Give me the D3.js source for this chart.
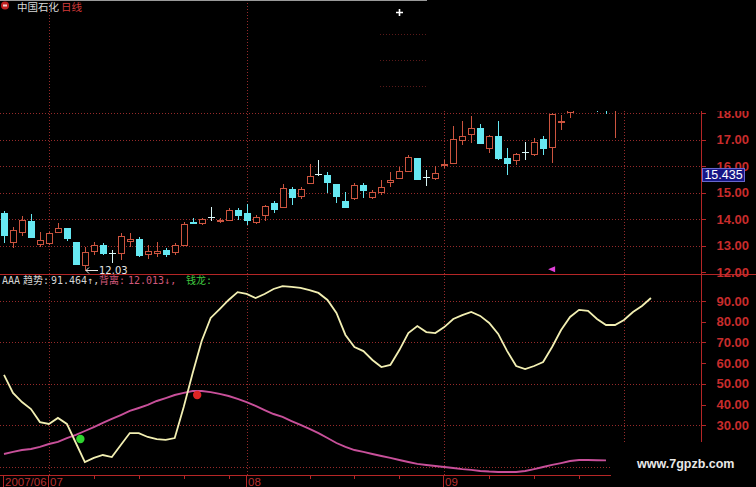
<!DOCTYPE html>
<html><head><meta charset="utf-8">
<script src="https://cdn.jsdelivr.net/npm/d3@7/dist/d3.min.js"></script>
<style>html,body{margin:0;padding:0;background:#000;overflow:hidden}</style>
</head><body>
<svg id="c" width="756" height="487"></svg>
<script>
// ---------- data ----------
const opens  = [14.23,13.13,13.51,13.92,13.06,13.09,13.51,13.66,13.13,12.26,12.79,13.02,12.72,12.72,13.17,13.25,12.68,12.72,12.83,12.75,
                13.02,13.89,13.85,14.08,13.92,13.96,14.34,14.23,13.89,14.15,14.60,14.45,15.13,14.87,15.36,15.70,15.66,15.32,14.68,14.79,
                15.28,14.83,15.02,15.40,15.55,15.81,16.30,15.58,15.55,16.04,16.11,16.98,17.21,17.43,16.68,17.13,16.30,16.23,16.53,16.45,
                17.02,16.72,17.66,18.05,18.40,18.60,18.50,18.50,18.20];
const highs  = [14.30,13.70,14.11,14.19,13.51,13.51,13.85,13.66,13.13,12.94,13.13,13.09,12.83,13.47,13.47,13.32,13.02,13.13,12.91,13.09,
                13.89,14.04,14.04,14.45,14.04,14.42,14.42,14.57,14.15,14.53,14.68,15.32,15.21,15.21,16.08,16.23,15.77,15.32,15.02,15.36,
                15.36,15.09,15.47,15.77,15.96,16.42,16.30,15.85,16.00,16.23,17.51,17.70,17.89,17.58,17.17,17.70,16.68,16.49,16.91,17.06,
                17.13,18.00,17.92,18.60,18.80,18.90,18.70,18.70,18.70];
const lows   = [13.09,12.91,13.36,13.28,12.94,13.02,13.47,13.17,12.28,12.03,12.64,12.64,12.34,12.45,12.94,12.57,12.49,12.57,12.57,12.64,
                12.98,13.85,13.77,13.92,13.85,13.92,13.96,13.77,13.81,13.92,14.23,14.45,14.53,14.75,15.32,15.62,14.98,14.60,14.42,14.72,
                14.79,14.75,14.91,15.21,15.55,15.77,15.47,15.25,15.47,15.92,16.11,16.79,16.87,16.83,16.49,16.23,15.66,16.04,16.23,16.38,
                16.42,16.11,17.36,17.83,18.20,18.10,18.05,17.96,17.06];
const closes = [13.40,13.58,13.96,13.32,13.21,13.47,13.66,13.28,12.30,12.75,13.02,12.72,12.72,13.36,13.25,12.64,12.79,12.79,12.68,13.02,
                13.81,13.85,14.00,14.08,13.96,14.34,14.15,13.96,14.08,14.49,14.38,15.17,14.83,15.13,15.62,15.70,15.40,14.87,14.45,15.28,
                15.09,15.02,15.21,15.47,15.81,16.34,15.51,15.58,15.74,16.08,17.02,17.13,17.43,16.87,17.13,16.30,16.11,16.45,16.53,16.91,
                16.68,17.96,17.70,18.35,18.60,18.40,18.30,18.30,18.50];
// indicator "趋势"
const trend = [54.3,45.6,41.2,37.8,31.5,30.6,33.5,30.6,21.4,12.2,14.2,15.6,14.6,20.4,26.2,26.2,24.3,23.3,22.9,23.8,
               38.8,55.2,70.7,81.8,86.1,90.5,94.3,93.4,91.4,93.4,95.8,97.2,96.8,96.3,95.3,93.9,90.5,84.2,73.6,67.8,
               65.8,61.5,58.1,59.1,66.3,74.5,77.9,75.0,74.5,77.4,81.3,83.2,84.7,82.8,79.4,74.1,65.8,58.6,57.1,58.6,
               60.5,67.8,76.0,82.3,85.7,85.2,81.3,78.4,78.4,80.8,84.7,87.6,91.46];
// indicator "背离"
const diverge = [16.1,17.1,18.0,18.5,19.5,20.9,21.9,23.8,25.3,27.2,29.1,31.1,33.0,34.9,36.9,38.3,39.8,41.7,43.1,44.6,
                 45.6,46.5,46.5,46.0,45.1,44.1,42.7,41.2,39.3,37.3,35.4,34.0,32.0,30.1,28.2,26.2,23.8,21.4,19.5,18.0,
                 17.1,16.1,15.1,14.2,13.2,12.2,11.3,10.8,10.3,9.8,9.3,8.8,8.4,7.9,7.6,7.4,7.4,7.4,7.9,8.8,
                 9.8,10.8,11.7,12.7,13.2,13.2,13.1,13.0];
const dotIdx = [8.5, 21.5];
const dotVal = [23.3, 44.6];
const dotColors = ["#2fd42f", "#e02424"];

const priceTicks = [12,13,14,15,16,17,18];
const upperGrid = [19,20,21];
const indTicks = [30,40,50,60,70,80,90];
const indGrid = [10,30,50,70,90];
const monthLabels = ["2007/06","07","08","09"];
const monthIdx = [0,5,27,49];
const gridIdx = [5,27,49,69];
const weekIdx = [10,15,20,25,34,39,44,54,59,64];
const lastPrice = 15.435;
const titleName = "中国石化", titlePeriod = "日线";
const headerTexts = ["AAA", "趋势:", "91.464↑,", "背离:", "12.013↓,", "钱龙:"];
const headerColors = ["#d4d4d4", "#d4d4d4", "#d4d4d4", "#d0587a", "#d0587a", "#3fc43f"];
const headerX = [2, 23, 51, 99, 128, 186];

// ---------- drawing ----------
const svg = d3.select("#c");
svg.append("rect").attr("width",756).attr("height",487).attr("fill","#000");

const x = d3.scaleLinear().domain([0,68]).range([4,615]);
const yP = d3.scaleLinear().domain([12,18]).range([272,113]);
const yI = d3.scaleLinear().domain([30,90]).range([425.2,301]);

const GRID = "#962a2a", AXIS = "#b42626", LBL = "#c82c2c";
const RED = "#cc543f", CYAN = "#66e8f2", DOJI = "#d8f6f6";

const g = svg.append("g");
// horizontal dotted grids
g.selectAll(".hp").data(priceTicks.slice(1)).join("line")
  .attr("x1",0).attr("x2",701).attr("y1",d=>Math.round(yP(d))+0.5).attr("y2",d=>Math.round(yP(d))+0.5)
  .attr("stroke",GRID).attr("stroke-dasharray","1,2");
g.selectAll(".hu").data(upperGrid).join("line")
  .attr("x1",380).attr("x2",427).attr("y1",d=>Math.round(yP(d))+0.5).attr("y2",d=>Math.round(yP(d))+0.5)
  .attr("stroke",GRID).attr("stroke-opacity",0.6).attr("stroke-dasharray","1,2");
g.selectAll(".hi").data(indGrid).join("line")
  .attr("x1",0).attr("x2",701).attr("y1",d=>Math.round(yI(d))+0.5).attr("y2",d=>Math.round(yI(d))+0.5)
  .attr("stroke",GRID).attr("stroke-dasharray","1,2");
// vertical dotted grids
g.selectAll(".v").data(gridIdx).join("line")
  .attr("x1",d=>Math.round(x(d))+0.5).attr("x2",d=>Math.round(x(d))+0.5).attr("y1",0).attr("y2",475)
  .attr("stroke",GRID).attr("stroke-dasharray","1,2");

// candles
const candles = g.append("g");
opens.forEach((o,i)=>{
  const c = closes[i], h = highs[i], l = lows[i];
  const cx = Math.round(x(i));
  const top = Math.round(yP(Math.max(o,c))), bot = Math.round(yP(Math.min(o,c)));
  const yh = Math.round(yP(h)), yl = Math.round(yP(l));
  if (o === c) {
    candles.append("line").attr("x1",cx+0.5).attr("x2",cx+0.5).attr("y1",yh).attr("y2",yl).attr("stroke",DOJI);
    candles.append("line").attr("x1",cx-3).attr("x2",cx+4).attr("y1",top+0.5).attr("y2",top+0.5).attr("stroke",DOJI);
  } else if (c > o) {
    candles.append("line").attr("x1",cx+0.5).attr("x2",cx+0.5).attr("y1",yh).attr("y2",top).attr("stroke",RED);
    candles.append("line").attr("x1",cx+0.5).attr("x2",cx+0.5).attr("y1",bot).attr("y2",yl).attr("stroke",RED);
    if (bot - top < 2) {
      candles.append("line").attr("x1",cx-3).attr("x2",cx+4).attr("y1",top+0.5).attr("y2",top+0.5).attr("stroke",RED);
      candles.append("line").attr("x1",cx-3).attr("x2",cx+4).attr("y1",bot+0.5).attr("y2",bot+0.5).attr("stroke",RED);
    } else {
      candles.append("rect").attr("x",cx-2.5).attr("y",top+0.5).attr("width",6).attr("height",bot-top)
        .attr("fill","#000").attr("stroke",RED);
    }
  } else {
    candles.append("line").attr("x1",cx+0.5).attr("x2",cx+0.5).attr("y1",yh).attr("y2",yl).attr("stroke",CYAN);
    candles.append("rect").attr("x",cx-3).attr("y",top).attr("width",7).attr("height",Math.max(1,bot-top+1))
      .attr("fill",CYAN);
  }
});

// min low label
const minI = d3.minIndex(lows);
const mx = Math.round(x(minI)) + 1, myl = Math.round(yP(lows[minI])) - 0.5;
g.append("path").attr("d",`M${mx+12},${myl} H${mx} M${mx},${myl} L${mx+3},${myl-3} M${mx},${myl} L${mx+3},${myl+3}`)
  .attr("stroke","#e6e6e6").attr("fill","none");
g.append("text").attr("x",mx+13).attr("y",myl+3.5)
  .attr("font-family","DejaVu Sans").attr("font-size",10).attr("fill","#e6e6e6")
  .text(d3.format(".2f")(lows[minI]));

// cursor marker
const mi = 61, my = yP(12.1);
g.append("path").attr("d",`M${x(mi)-4},${my} L${x(mi)+3},${my-3} L${x(mi)+3},${my+3} Z`).attr("fill","#e040d8");

// panel divider, right axis, bottom axis
g.append("line").attr("x1",0).attr("x2",756).attr("y1",274.5).attr("y2",274.5).attr("stroke",AXIS);
g.append("line").attr("x1",701.5).attr("x2",701.5).attr("y1",100).attr("y2",475).attr("stroke",AXIS);
g.append("line").attr("x1",0).attr("x2",701).attr("y1",475.5).attr("y2",475.5).attr("stroke",AXIS);

// price axis labels
const fmt = d3.format(".2f");
g.selectAll(".pl").data(priceTicks).join("text")
  .attr("x",749).attr("y",d=>yP(d)+4.6).attr("text-anchor","end")
  .attr("font-family","Liberation Sans, Arial").attr("font-weight","bold").attr("font-size",13)
  .attr("fill",LBL).text(d=>fmt(d));
g.selectAll(".pt").data(priceTicks).join("line")
  .attr("x1",701).attr("x2",706).attr("y1",d=>Math.round(yP(d))+0.5).attr("y2",d=>Math.round(yP(d))+0.5).attr("stroke",AXIS);
// indicator axis labels
g.selectAll(".il").data(indTicks).join("text")
  .attr("x",749).attr("y",d=>yI(d)+4.6).attr("text-anchor","end")
  .attr("font-family","Liberation Sans, Arial").attr("font-weight","bold").attr("font-size",13)
  .attr("fill",LBL).text(d=>fmt(d));
g.selectAll(".it").data(indTicks).join("line")
  .attr("x1",701).attr("x2",706).attr("y1",d=>Math.round(yI(d))+0.5).attr("y2",d=>Math.round(yI(d))+0.5).attr("stroke",AXIS);

// last price box
const lb = yP(lastPrice);
g.append("rect").attr("x",702.5).attr("y",lb-12.5).attr("width",42).attr("height",13)
  .attr("fill","#161686").attr("stroke","#6a6ad0");
g.append("text").attr("x",723.5).attr("y",lb-1.8).attr("text-anchor","middle")
  .attr("font-family","Liberation Sans, Arial").attr("font-size",12.5).attr("fill","#ffffff").text(lastPrice);

// indicator lines
const lineT = d3.line().x((d,i)=>x(i)).y(d=>yI(d));
g.append("path").attr("d",lineT(diverge)).attr("fill","none").attr("stroke","#c8509a").attr("stroke-width",1.9);
g.append("path").attr("d",lineT(trend)).attr("fill","none").attr("stroke","#f2efb2").attr("stroke-width",1.8);
g.selectAll(".dot").data(dotIdx).join("circle")
  .attr("cx",d=>x(d)).attr("cy",(d,i)=>yI(dotVal[i])).attr("r",4.2).attr("fill",(d,i)=>dotColors[i]);

// header text
g.selectAll(".hd").data(headerTexts).join("text")
  .attr("x",(d,i)=>headerX[i]).attr("y",284)
  .attr("font-family","DejaVu Sans Mono, Noto Sans CJK SC").attr("font-size",10)
  .attr("fill",(d,i)=>headerColors[i]).text(d=>d);

// bottom axis ticks & labels
g.selectAll(".mt").data(monthIdx).join("line")
  .attr("x1",d=>Math.round(x(d))-0.5).attr("x2",d=>Math.round(x(d))-0.5).attr("y1",476).attr("y2",487).attr("stroke",AXIS);
g.selectAll(".wt").data(weekIdx).join("line")
  .attr("x1",d=>Math.round(x(d))+0.5).attr("x2",d=>Math.round(x(d))+0.5).attr("y1",476).attr("y2",479).attr("stroke",AXIS);
g.selectAll(".ml").data(monthLabels).join("text")
  .attr("x",(d,i)=>Math.round(x(monthIdx[i]))+1).attr("y",486)
  .attr("font-family","Liberation Sans, Arial").attr("font-size",11.5).attr("fill","#b83030").text(d=>d);

// erased upper-right area
g.append("rect").attr("x",427).attr("y",0).attr("width",329).attr("height",111).attr("fill","#000");
// watermark area
g.append("rect").attr("x",611).attr("y",442).attr("width",145).attr("height",45).attr("fill","#000");
g.append("text").attr("x",637).attr("y",468).attr("font-family","Liberation Sans, Arial").attr("font-weight","bold")
  .attr("font-size",12.5).attr("fill","#e8e8e8").text("www.7gpzb.com");

// title bar
g.append("line").attr("x1",0).attr("x2",427).attr("y1",0.5).attr("y2",0.5).attr("stroke","#9a9a9a");
g.append("circle").attr("cx",5).attr("cy",5.5).attr("r",4).attr("fill","#c02020");
g.append("rect").attr("x",3).attr("y",4.5).attr("width",4).attr("height",2).attr("fill","#f0d0d0");
const tt = g.append("text").attr("x",17).attr("y",10.5).attr("font-family","Noto Sans CJK SC").attr("font-size",10.5);
tt.append("tspan").attr("fill","#d8d8d8").text(titleName);
tt.append("tspan").attr("fill","#d23a3a").attr("dx",2).text(titlePeriod);
// crosshair mark
g.append("path").attr("d","M396,12.5 H403 M399.5,9 V16").attr("stroke","#ffffff").attr("stroke-width",1.6);
</script>
</body></html>
